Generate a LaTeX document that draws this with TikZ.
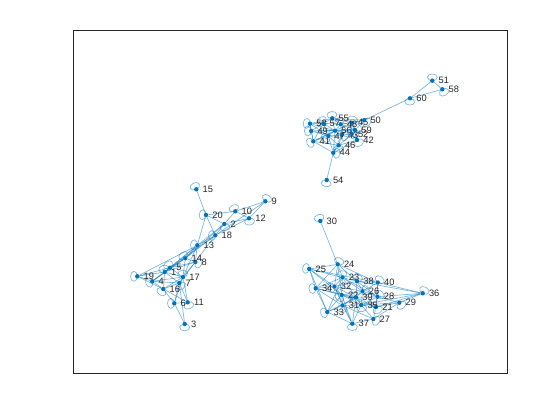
\documentclass[tikz,border=0pt]{standalone}
\usepackage{fontspec}
\setmainfont{Liberation Sans}
\usepackage{tikz}
\usetikzlibrary{backgrounds}

\definecolor{mblue}{rgb}{0,0.447,0.741}
\definecolor{axgray}{rgb}{0.15,0.15,0.15}

\tikzset{
  vertex/.style={circle,fill=mblue,inner sep=0pt,minimum size=0.11cm,
    label={[font=\fontsize{6.6}{7}\selectfont,text=axgray,inner sep=0pt,xshift=0.09cm]0:#1}},
  edge/.style={draw=mblue,draw opacity=0.5,line width=0.5pt}
}

\begin{document}
\begin{tikzpicture}[x=0.025cm,y=-0.025cm]

  \useasboundingbox (0,0) rectangle (560,420);

  % axes box
  \draw[axgray,line width=0.5pt] (73.3,30.5) rectangle (507.3,373.3);

  % vertices
  \foreach \n/\px/\py in {
      1/164.7/272, 2/224.3/224, 3/184.7/324, 4/152.3/281.3, 5/170/267.7,
      6/174.3/303.3, 7/179.3/283, 8/195.3/262, 9/265.3/201.3, 10/235.3/211.3,
      11/187.7/302.3, 12/249/218.3, 13/197.3/245.3, 14/185.3/258.3, 15/196.3/189.3,
      16/163.3/289, 17/183/277, 18/215.3/235.3, 19/137.3/276.3, 20/206/215,
      21/376/307, 22/341.7/295, 23/342.5/277.5, 24/337.7/264.3, 25/309.3/269,
      26/362.5/291.3, 27/373.3/319, 28/377.5/296.7, 29/399.3/302.7, 30/320.3/221,
      31/342.5/305.5, 32/334.5/286.5, 33/327.3/312, 34/315.7/288.3, 35/361.2/305,
      36/422.7/293.3, 37/352.3/323.7, 38/357/281.3, 39/356/297.5, 40/377.8/282.5,
      41/313.3/141.3, 42/357/140, 43/341.7/135, 44/333.3/152.8, 45/351.7/122.7,
      46/338.7/145.3, 47/328.3/136, 48/340.7/124.3, 49/311.2/131, 50/364.2/120.2,
      51/432.3/80.7, 52/351.7/134, 53/310/123.7, 54/326.7/180, 55/332.2/118.3,
      56/335/130.7, 57/323.3/123.3, 58/442.3/89.3, 59/355/130, 60/410/98.3}
    \node[vertex=\n] (v\n) at (\px,\py) {};

  \begin{pgfonlayer}{background}
    % self loops
    \foreach \n/\a in {
        1/110, 2/-80, 3/-90, 4/200, 5/125, 6/180, 7/-60, 8/-20, 9/60, 10/115,
        11/-70, 12/-80, 13/170, 14/130, 15/115, 16/235, 17/95, 18/185, 19/180, 20/175,
        21/-60, 22/230, 23/100, 24/65, 25/170, 26/20, 27/-30, 28/40, 29/-50, 30/110,
        31/-100, 32/200, 33/195, 34/185, 35/-80, 36/60, 37/-90, 38/80, 39/250, 40/55,
        41/205, 42/-55, 43/-20, 44/-10, 45/70, 46/-90, 47/215, 48/110, 49/180, 50/-40,
        51/90, 52/10, 53/175, 54/-100, 55/95, 56/240, 57/120, 58/-60, 59/30, 60/-95}
      \draw[edge] (v\n.center) ++(\a:0.085cm)
        circle[x radius=0.085cm,y radius=0.125cm,rotate=\a];

    % first group
    \foreach \s/\t in {
        15/20, 20/10, 20/2, 20/18, 20/13, 10/9, 10/12, 10/2, 9/12, 9/18,
        2/18, 2/12, 2/13, 2/14, 12/18, 18/13, 18/14, 18/8, 18/5, 13/14,
        13/8, 13/1, 13/5, 13/17, 14/5, 14/8, 14/1, 14/17, 8/5, 8/17,
        8/7, 5/1, 5/19, 5/17, 5/4, 1/19, 1/4, 1/17, 1/7, 1/16,
        19/4, 19/16, 4/16, 4/17, 4/7, 16/7, 16/17, 16/6, 16/11, 17/7,
        17/11, 17/6, 7/6, 7/11, 7/3, 6/11, 6/3, 13/19, 14/4, 8/1}
      \draw[edge] (v\s) -- (v\t);

    % second group
    \foreach \s/\t in {
        30/24, 24/25, 24/23, 24/38, 24/32, 24/22, 24/40, 24/34, 25/34, 25/23,
        25/32, 25/33, 25/22, 25/40, 34/32, 34/22, 34/33, 34/31, 34/23, 32/23,
        32/22, 32/39, 32/26, 32/31, 32/38, 23/38, 23/22, 23/26, 23/39, 23/28,
        38/40, 38/26, 38/39, 38/28, 40/36, 40/28, 40/26, 40/21, 36/28, 36/29,
        36/21, 36/38, 36/35, 26/39, 26/28, 26/22, 26/35, 26/21, 26/31, 22/39,
        22/31, 22/33, 22/35, 22/37, 39/35, 39/31, 39/28, 39/21, 39/37, 28/29,
        28/21, 28/35, 29/21, 29/35, 29/27, 31/35, 31/33, 31/37, 31/27, 35/21,
        35/27, 35/37, 21/27, 33/37, 27/37, 33/23, 37/32, 21/22, 34/39, 33/39}
      \draw[edge] (v\s) -- (v\t);

    % third group
    \foreach \s/\t in {
        51/60, 51/58, 58/60, 60/50, 50/45, 50/59, 50/55, 50/48, 54/44, 44/41,
        44/46, 44/47, 44/56, 44/43, 41/49, 41/53, 41/47, 41/56, 41/57, 41/46,
        53/57, 53/49, 53/55, 53/47, 53/56, 49/57, 49/47, 49/56, 57/55, 57/48,
        57/56, 57/47, 55/48, 55/56, 55/45, 48/45, 48/56, 48/59, 48/43, 48/52,
        45/59, 45/52, 45/42, 56/47, 56/43, 56/52, 56/59, 47/43, 47/46, 43/52,
        43/46, 43/42, 52/59, 52/42, 59/42, 46/42, 46/52, 41/45, 49/59, 44/42}
      \draw[edge] (v\s) -- (v\t);
  \end{pgfonlayer}

\end{tikzpicture}
\end{document}
